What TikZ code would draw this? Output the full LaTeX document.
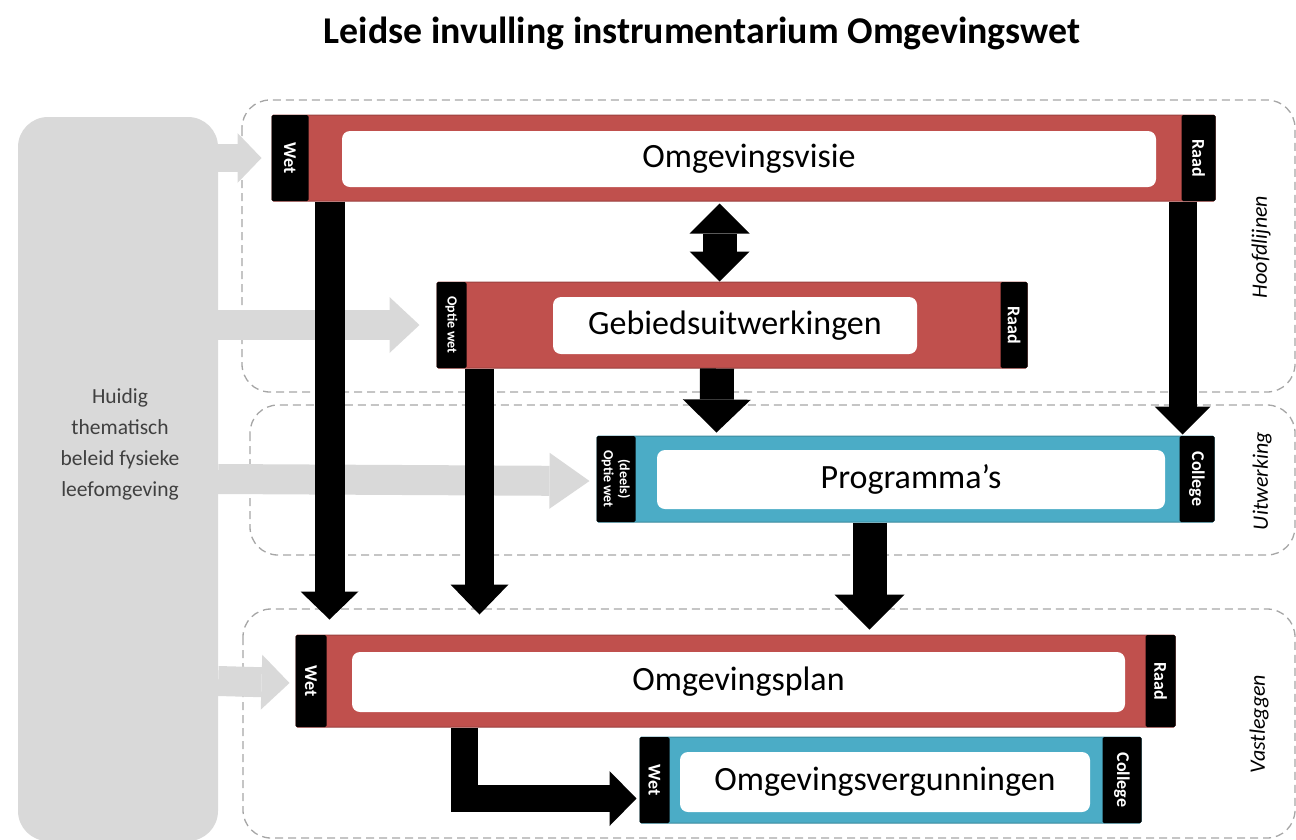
\documentclass[tikz,border=0pt]{standalone}
\usepackage{fontspec}
\setmainfont{Carlito}
\usepackage{tikz}
\usetikzlibrary{arrows.meta,calc}

\definecolor{rood}{RGB}{192,80,77}
\definecolor{blauw}{RGB}{75,172,198}
\definecolor{grijs}{RGB}{217,217,217}
\definecolor{kader}{RGB}{166,166,166}
\definecolor{tekstgrijs}{RGB}{64,64,64}

\newcommand{\titelfont}{\fontsize{37.8}{44}\selectfont\bfseries}
\newcommand{\boxfont}{\fontsize{34}{40}\selectfont}
\newcommand{\tabfont}{\fontsize{18}{20}\selectfont\bfseries}
\newcommand{\tabklein}{\fontsize{14}{16}\selectfont\bfseries}
\newcommand{\laagfont}{\fontsize{22}{26}\selectfont\itshape}
\newcommand{\grijsfont}{\fontsize{21.5}{31}\selectfont}

\begin{document}
\begin{tikzpicture}[x=1pt,y=-1pt,
  balk/.style={rectangle, inner sep=0pt, fill=#1, draw=#1!80!black, line width=1pt, rounded corners=1.5pt},
  tab/.style={rectangle, inner sep=0pt, fill=black, text=white, font=\tabfont, rotate=-90, rounded corners=1.5pt, align=center},
  binnen/.style={rectangle, inner sep=0pt, fill=white, rounded corners=8pt, font=\boxfont},
  kaderlijn/.style={draw=kader, line width=1.3pt, dash pattern=on 8pt off 5pt, rounded corners=28pt},
  laag/.style={font=\laagfont, rotate=90},
  blok/.style n args={3}{draw=black, line width=#1, line join=miter, -{Triangle[width=#2, length=#3, line width=0pt]}},
  grijspijl/.style n args={3}{draw=grijs, line width=#1, -{Triangle[width=#2, length=#3, line width=0pt]}}
]

\useasboundingbox (0,0) rectangle (1296,839);

\node[font=\titelfont] (titel) at (702,33) {Leidse invulling instrumentarium Omgevingswet};

% kaders
\draw[kaderlijn] (242,100) rectangle (1295,392);
\draw[kaderlijn] (250,405) rectangle (1295,555);
\draw[kaderlijn] (243,609) rectangle (1295,838);

\node[laag] (hoofdlijnen) at (1261,247) {Hoofdlijnen};
\node[laag] (uitwerking) at (1262,481) {Uitwerking};
\node[laag] (vastleggen) at (1259,724) {Vastleggen};

% huidig beleid
\node[fill=grijs, rounded corners=30pt, minimum width=200pt, minimum height=724pt, inner sep=0pt] (huidig) at (118,479) {};
\node[font=\grijsfont, text=tekstgrijs, align=center] (huidigtekst) at (120,444) {Huidig\\thematisch\\beleid fysieke\\leefomgeving};

% instrumenten
\node[balk=rood, minimum width=943pt, minimum height=86pt] (visie) at (743.5,158) {};
\node[tab, minimum width=86pt, minimum height=37pt] (visiewet) at ($(visie.west)+(18.5,0)$) {Wet};
\node[tab, minimum width=86pt, minimum height=34pt] (visieraad) at ($(visie.east)+(-17,0)$) {Raad};
\node[binnen, minimum width=814pt, minimum height=56pt] (visietekst) at (749,159) {Omgevingsvisie};

\node[balk=rood, minimum width=590pt, minimum height=86pt] (gebied) at (732,325) {};
\node[tab, font=\tabklein, minimum width=86pt, minimum height=30pt] (gebiedwet) at ($(gebied.west)+(15,0)$) {Optie wet};
\node[tab, minimum width=86pt, minimum height=27pt] (gebiedraad) at ($(gebied.east)+(-13.5,0)$) {Raad};
\node[binnen, minimum width=364pt, minimum height=57pt] (gebiedtekst) at (735,325.5) {Gebiedsuitwerkingen};

\node[balk=blauw, minimum width=617pt, minimum height=86pt] (programma) at (905.5,479) {};
\node[tab, font=\tabklein, minimum width=86pt, minimum height=39pt] (programmawet) at ($(programma.west)+(19.5,0)$) {(deels)\\Optie wet};
\node[tab, minimum width=86pt, minimum height=35pt] (programmacollege) at ($(programma.east)+(-17.5,0)$) {College};
\node[binnen, minimum width=508pt, minimum height=59pt] (programmatekst) at (911,479.5) {Programma’s};

\node[balk=rood, minimum width=879pt, minimum height=92pt] (plan) at (735.5,681) {};
\node[tab, minimum width=92pt, minimum height=31pt] (planwet) at ($(plan.west)+(15.5,0)$) {Wet};
\node[tab, minimum width=92pt, minimum height=30pt] (planraad) at ($(plan.east)+(-15,0)$) {Raad};
\node[binnen, minimum width=773pt, minimum height=60pt] (plantekst) at (738.5,682) {Omgevingsplan};

\node[balk=blauw, minimum width=501pt, minimum height=86pt] (vergunning) at (890.5,780) {};
\node[tab, minimum width=86pt, minimum height=30pt] (vergunningwet) at ($(vergunning.west)+(15,0)$) {Wet};
\node[tab, minimum width=86pt, minimum height=39pt] (vergunningcollege) at ($(vergunning.east)+(-19.5,0)$) {College};
\node[binnen, minimum width=410pt, minimum height=60pt] (vergunningtekst) at (885,782) {Omgevingsvergunningen};

% grijze pijlen
\draw[grijspijl={28pt}{50pt}{24pt}] (huidig.east |- visie.west) -- ($(visie.west)+(-10,0)$);
\draw[grijspijl={30pt}{56pt}{30pt}] (huidig.east |- gebied.west) -- ($(gebied.west)+(-17,0)$);
\draw[grijspijl={30pt}{56pt}{40pt}] (huidig.east |- programma.west) -- ($(programma.west)+(-7,2)$);
\draw[grijspijl={30pt}{55pt}{28pt}] (huidig.east |- plan.west) -- ($(plan.west)+(-6,2)$);

% zwarte pijlen
\draw[blok={30pt}{58pt}{28pt}] ($(visie.south west)+(58,0)$) -- ($(plan.north west)+(34,-15)$);
\draw[blok={29pt}{58pt}{30pt}] ($(gebied.south west)+(43,0)$) -- ($(plan.north west)+(184,-20)$);
\draw[blok={28pt}{56pt}{28pt}] ($(visie.south east)+(-33,0)$) -- ($(programma.north east)+(-32,-1)$);
\draw[blok={34pt}{68pt}{33pt}] ($(gebied.south)+(-15,0)$) -- ($(programma.north west)+(120,-3)$);
\draw[blok={34pt}{70pt}{35pt}] ($(programma.south west)+(273,0)$) -- ($(plan.north west)+(574,-5)$);
\draw[line width=34pt, {Triangle[width=60pt,length=30pt,line width=0pt]}-{Triangle[width=60pt,length=30pt,line width=0pt]}] ($(visie.south west)+(448,2)$) -- ($(gebied.north west)+(283,0)$);
\draw[blok={27pt}{55pt}{27pt}] ($(plan.south west)+(169,0)$) |- ($(vergunning.west)+(-3,18.5)$);

\end{tikzpicture}
\end{document}
